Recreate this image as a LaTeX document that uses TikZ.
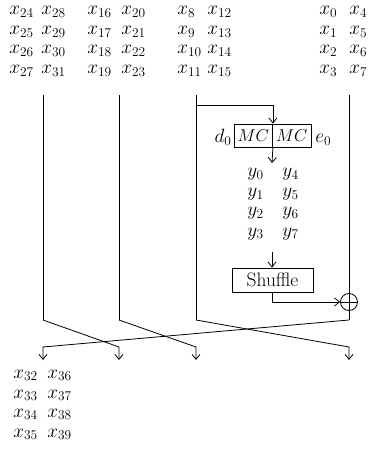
\documentclass[tikz,border=0pt]{standalone}
\usepackage{graphicx}
\usetikzlibrary{arrows.meta}
\newcommand\mylb[1]{\scalebox{1.12}{$#1$}}
\begin{document}
\begin{tikzpicture}[x=1bp,y=-1bp, line width=0.8bp,
  lbl/.style={anchor=base west, inner sep=0pt, font=\fontsize{17.28pt}{20pt}\selectfont},
  arr/.style={-{Straight Barb[length=5bp,width=8bp]}},
  opbox/.style={draw, inner sep=0pt, font=\fontsize{17.28pt}{20pt}\selectfont}]
\useasboundingbox (0,0) rectangle (370,452);
% top inputs
\foreach \i/\r in {0/15,1/34.5,2/54,3/74}{
  \pgfmathtruncatemacro{\na}{24+\i}\pgfmathtruncatemacro{\nb}{28+\i}
  \pgfmathtruncatemacro{\nc}{16+\i}\pgfmathtruncatemacro{\nd}{20+\i}
  \pgfmathtruncatemacro{\ne}{8+\i}\pgfmathtruncatemacro{\nf}{12+\i}
  \pgfmathtruncatemacro{\nh}{4+\i}
  \node[lbl] (a\i) at (9,\r) {\mylb{x_{\na}}};
  \node[lbl] (b\i) at (41,\r) {\mylb{x_{\nb}}};
  \node[lbl] (c\i) at (87,\r) {\mylb{x_{\nc}}};
  \node[lbl] (d\i) at (121,\r) {\mylb{x_{\nd}}};
  \node[lbl] (e\i) at (177,\r) {\mylb{x_{\ne}}};
  \node[lbl] (f\i) at (207,\r) {\mylb{x_{\nf}}};
  \node[lbl] (g\i) at (319,\r) {\mylb{x_{\i}}};
  \node[lbl] (h\i) at (349,\r) {\mylb{x_{\nh}}};
}
% y values
\foreach \i/\r in {0/177,1/196.5,2/216,3/236}{
  \pgfmathtruncatemacro{\nh}{4+\i}
  \node[lbl] (ya\i) at (247,\r) {\mylb{y_{\i}}};
  \node[lbl] (yb\i) at (282,\r) {\mylb{y_{\nh}}};
}
% outputs
\foreach \i/\r in {0/378,1/398,2/417,3/437}{
  \pgfmathtruncatemacro{\na}{32+\i}\pgfmathtruncatemacro{\nb}{36+\i}
  \node[lbl] (oa\i) at (13,\r) {\mylb{x_{\na}}};
  \node[lbl] (ob\i) at (47,\r) {\mylb{x_{\nb}}};
}
% MC boxes
\node[opbox, minimum width=38.5bp, minimum height=23bp] (mc1) at (253.25,135.5) {$MC$};
\node[opbox, minimum width=38.5bp, minimum height=23bp] (mc2) at (291.75,135.5) {$MC$};
\node[lbl, anchor=base east] (d0) at (232,143) {\mylb{d_0}};
\node[lbl] (e0) at (315,143) {\mylb{e_0}};
% shuffle and xor
\node[opbox, minimum width=81bp, minimum height=24bp, font=\fontsize{19.5pt}{22pt}\selectfont] (sh) at (272.5,280) {Shuffle};
\node[circle, draw, minimum size=17bp, inner sep=0pt] (xo) at (349,302) {};
\draw (xo.north) -- (xo.south) (xo.west) -- (xo.east);
% coordinates
\foreach \k/\x in {1/43,2/119,3/196,4/349}{
  \coordinate (s\k) at (\x,95);
  \coordinate (b\k) at (\x,320);
  \coordinate (m\k) at (\x,347);
  \coordinate (t\k) at (\x,360);
}
\coordinate (j) at (196,105);
\coordinate (mcout) at (272,163);
\coordinate (yout) at (272,252);
% connectors
\draw (s1) -- (b1);
\draw (s2) -- (b2);
\draw (s3) -- (b3);
\draw (s4) -- (xo.north);
\draw (xo.south) -- (b4);
\draw[arr] (j) -| (mc1.north east);
\draw[arr] (mc1.south east) -- (mcout);
\draw[arr] (yout) -- (yout |- sh.north);
\draw[arr] (sh.south -| yout) |- (xo.west);
\draw[arr] (b1) -- (m2) -- (t2);
\draw[arr] (b2) -- (m3) -- (t3);
\draw[arr] (b3) -- (m4) -- (t4);
\draw[arr] (b4) -- (m1) -- (t1);
\end{tikzpicture}
\end{document}
